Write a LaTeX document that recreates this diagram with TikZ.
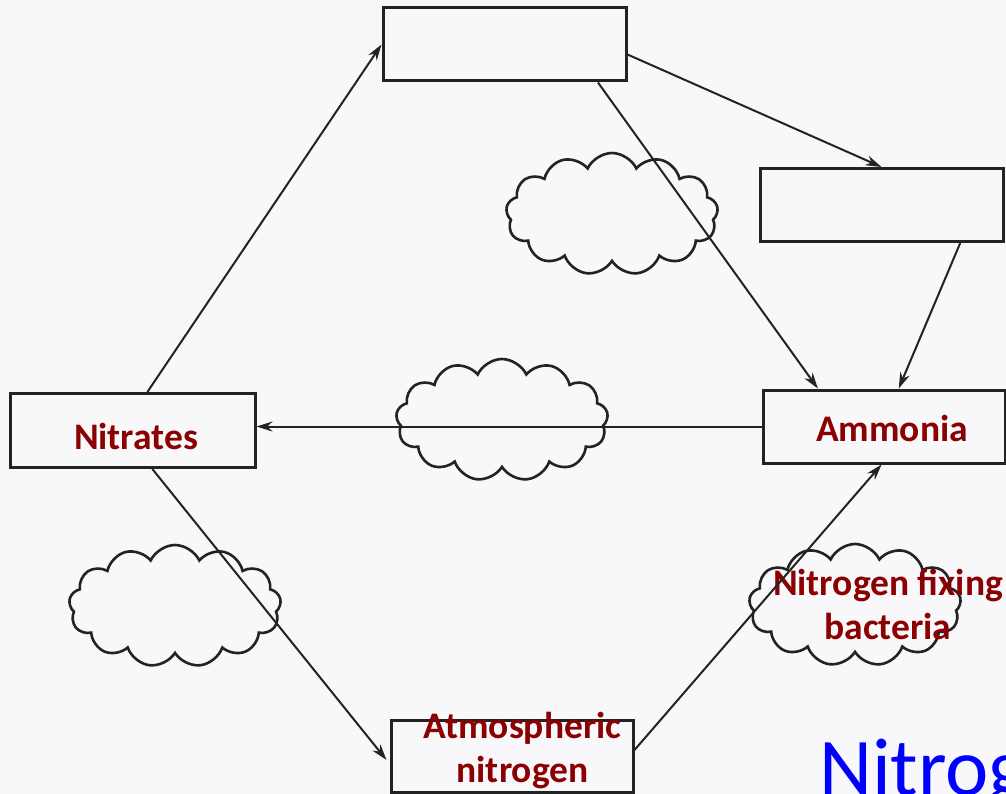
\documentclass[tikz,border=0pt]{standalone}
\usepackage{fontspec}
\setmainfont{Carlito}
\usetikzlibrary{shapes.symbols,arrows.meta,calc}
\definecolor{lbl}{RGB}{139,0,0}
\definecolor{ink}{RGB}{35,35,35}
\definecolor{paper}{RGB}{248,248,251}
\definecolor{ttl}{RGB}{0,0,255}
\begin{document}
\begin{tikzpicture}[x=1pt,y=-1pt,
  box/.style={draw=ink,line width=3pt,rectangle,minimum width=243pt,minimum height=73pt,inner sep=0pt},
  puff/.style={cloud,draw=ink,line width=2.6pt,cloud puffs=13,cloud puff arc=130,aspect=1.75,minimum width=212pt,minimum height=122pt,inner sep=0pt},
  lab/.style={text=lbl,font=\fontsize{37.5}{44}\selectfont\bfseries,align=center,inner sep=0pt},
  arr/.style={draw=ink,line width=2pt,-{Stealth[length=16pt,width=10pt]}}]
\useasboundingbox (0,0) rectangle (1006,794);
\fill[paper] (0,0) rectangle (1006,794);
% clouds
\node[puff] (c1) at (612,214) {};
\node[puff] (c2) at (502,420) {};
\node[puff] (c3) at (175,606) {};
\node[puff] (c4) at (855,605) {};
% boxes
\node[box] (top) at (504.5,44.5) {};
\node[box] (rbox) at (881.5,205) {};
\node[box,minimum width=242pt] (amm) at (884,426.5) {};
\node[box,minimum width=245pt,minimum height=74pt] (nit) at (132.5,430.5) {};
\node[box,minimum width=242pt,minimum height=72pt] (atm) at (512,756) {};
% labels
\node[lab] (tnit) at (136,436) {Nitrates};
\node[lab] (tamm) at (892,428) {Ammonia};
\node[lab] (tatm) at (522.5,751) {Atmospheric\\nitrogen};
\node[lab] (tfix) at (888,604) {Nitrogen fixing\\bacteria};
\node[text=ttl,font=\fontsize{82}{84}\selectfont,anchor=base west,inner sep=0pt] (title) at (819,795) {Nitrog};
% connectors
\draw[arr] ($(nit.north west)!0.56!(nit.north east)$) -- (top.west);
\draw[arr] ($(top.east)+(0,10)$) -- (rbox.north);
\draw[arr] ($(top.south west)!0.88!(top.south east)$) -- ($(amm.north west)!0.23!(amm.north east)$);
\draw[arr] ($(rbox.south west)!0.82!(rbox.south east)$) -- ($(amm.north west)!0.56!(amm.north east)$);
\draw[arr] (amm.west) -- (amm.west -| nit.east);
\draw[arr] ($(nit.south west)!0.58!(nit.south east)$) -- ($(atm.west)+(-3,4)$);
\draw[arr] ($(atm.east)+(0,-6)$) -- ($(amm.south west)!0.49!(amm.south east)$);
\end{tikzpicture}
\end{document}
